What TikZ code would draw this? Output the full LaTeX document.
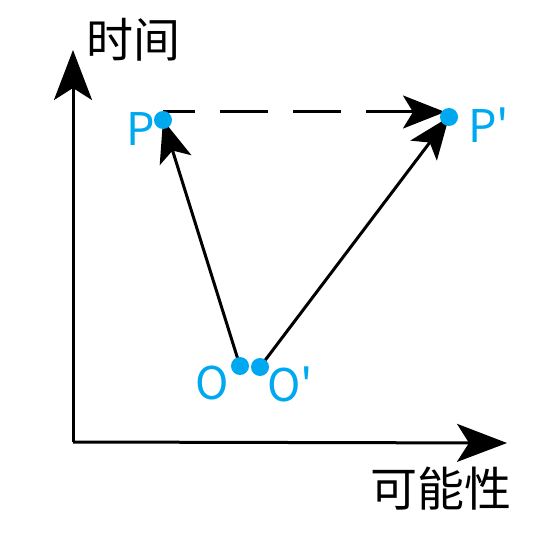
\documentclass[tikz,border=0pt]{standalone}
\usepackage{fontspec}
\setmainfont{Noto Sans CJK SC}[Ligatures=TeXOff]
\usetikzlibrary{arrows.meta}
\definecolor{ptblue}{RGB}{0,168,240}
\tikzset{
  axisarrow/.style={line width=3pt,-{Stealth[length=50pt,width=38pt,inset=12pt]}},
  movearrow/.style={line width=3pt,-{Stealth[length=42pt,width=33pt,inset=10pt]}},
  dot/.style={circle,fill=ptblue,inner sep=0pt,minimum size=18pt},
  lbl/.style={inner sep=0pt,font=\fontsize{47}{56}\selectfont},
  plbl/.style={inner sep=0pt,anchor=base west,text=ptblue,font=\fontsize{45}{54}\selectfont},
}
\begin{document}
\begin{tikzpicture}[x=1pt,y=-1pt]
\useasboundingbox (0,0) rectangle (540,540);
% axes
\coordinate (orig) at (73,442);
\coordinate (ytip) at (73,50);
\coordinate (xtip) at (507,443);
\draw[axisarrow] (orig) -- (ytip);
\draw[axisarrow] (orig) -- (xtip);
\node[lbl] (tlabel) at (133,40) {时间};
\node[lbl] (plabel) at (441,489) {可能性};
% points
\coordinate (P) at (163,120);
\coordinate (Pp) at (449,117);
\coordinate (O) at (240,366);
\coordinate (Op) at (260,367);
\coordinate (dstart) at (163,112);
\coordinate (dend) at (445,112);
\draw[movearrow,dash pattern=on 48pt off 25pt,dash phase=16pt] (dstart) -- (dend);
\draw[movearrow] (O) -- (P);
\draw[movearrow] (Op) -- (Pp);
\node[dot] (Pdot) at (P) {};
\node[dot] (Ppdot) at (Pp) {};
\node[dot] (Odot) at (O) {};
\node[dot] (Opdot) at (Op) {};
\node[plbl] (Pl) at (126,146) {P};
\node[plbl] (Ppl) at (468,143) {P'};
\node[plbl] (Ol) at (195,399) {O};
\node[plbl] (Opl) at (267,401) {O'};
\end{tikzpicture}
\end{document}
